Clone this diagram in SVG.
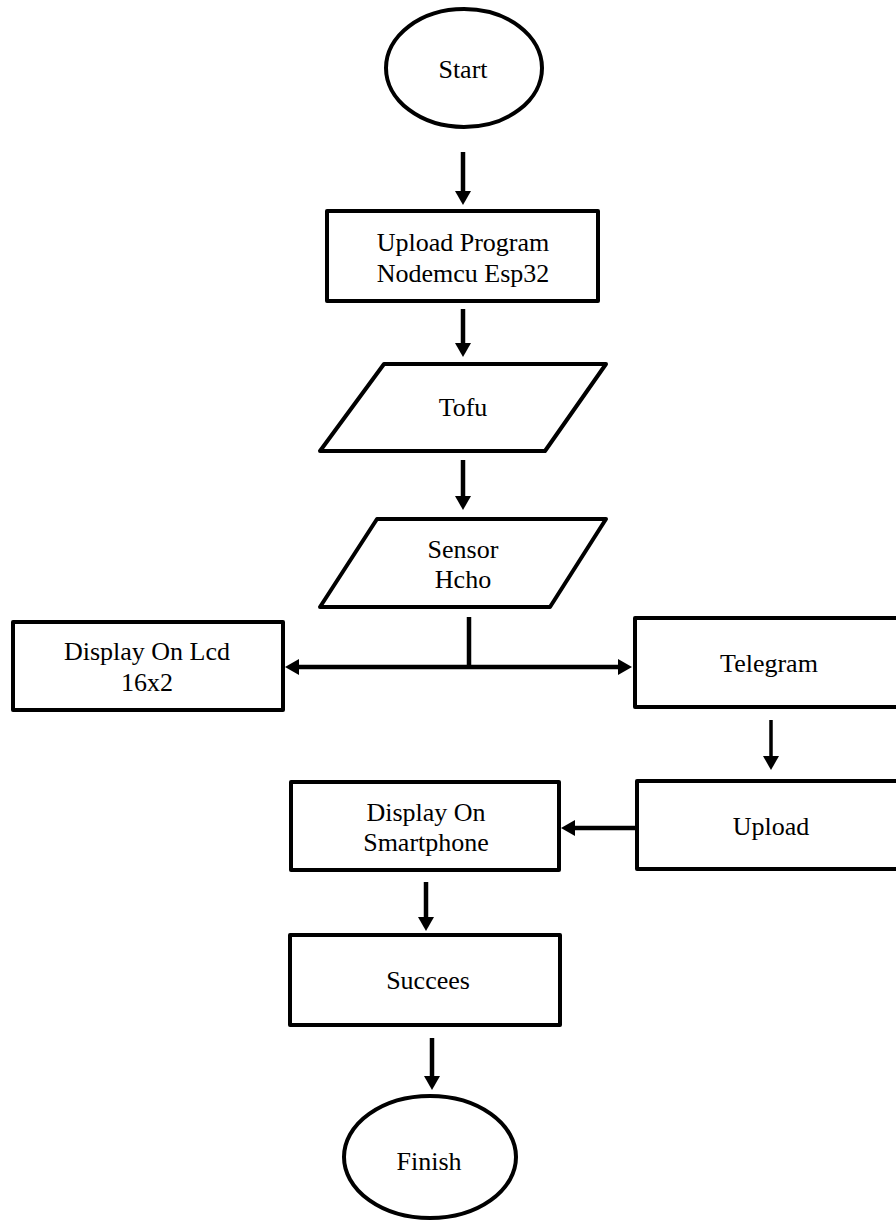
<svg xmlns="http://www.w3.org/2000/svg" width="896" height="1224" viewBox="0 0 896 1224">
<style>
.s{fill:#fff;stroke:#000;stroke-width:4;stroke-linejoin:round}
.t{font-family:"Liberation Serif","Times New Roman",serif;font-size:26px;fill:#000;text-anchor:middle}
.c{fill:none;stroke:#000;stroke-width:4.5}
.c3{fill:none;stroke:#000;stroke-width:3.5}
</style>
<defs>
<marker id="ah" markerUnits="userSpaceOnUse" markerWidth="16" markerHeight="16" viewBox="0 0 14 16" refX="2" refY="8" orient="auto">
<path d="M0,0 L14,8 L0,16 z" fill="#000"/>
</marker>
</defs>
<rect width="896" height="1224" fill="#fff"/>
<g id="connectors">
<line class="c" x1="463" y1="152" x2="463" y2="193" marker-end="url(#ah)"/>
<line class="c" x1="463" y1="309" x2="463" y2="345" marker-end="url(#ah)"/>
<line class="c" x1="463" y1="460" x2="463" y2="498" marker-end="url(#ah)"/>
<line class="c" x1="469" y1="617" x2="469" y2="667"/>
<line class="c" x1="469" y1="667" x2="297" y2="667" marker-end="url(#ah)"/>
<line class="c" x1="469" y1="667" x2="620" y2="667" marker-end="url(#ah)"/>
<line class="c3" x1="771" y1="720" x2="771" y2="758" marker-end="url(#ah)"/>
<line class="c" x1="637" y1="828" x2="573" y2="828" marker-end="url(#ah)"/>
<line class="c" x1="426" y1="882" x2="426" y2="919" marker-end="url(#ah)"/>
<line class="c" x1="432" y1="1038" x2="432" y2="1078" marker-end="url(#ah)"/>
</g>
<g id="start">
<ellipse class="s" cx="464" cy="68" rx="78" ry="59"/>
<text class="t" x="463" y="78">Start</text>
</g>
<g id="upload-program">
<rect class="s" x="327" y="211" width="271" height="90"/>
<text class="t" x="463" y="251">Upload Program</text>
<text class="t" x="463" y="282">Nodemcu Esp32</text>
</g>
<g id="tofu">
<polygon class="s" points="384,364 606,364 545,451 320,451"/>
<text class="t" x="463" y="416">Tofu</text>
</g>
<g id="sensor">
<polygon class="s" points="377,519 606,519 550,607 320,607"/>
<text class="t" x="463" y="558">Sensor</text>
<text class="t" x="463" y="588">Hcho</text>
</g>
<g id="lcd">
<rect class="s" x="13" y="622" width="270" height="88"/>
<text class="t" x="147" y="660">Display On Lcd</text>
<text class="t" x="147" y="691">16x2</text>
</g>
<g id="telegram">
<rect class="s" x="635" y="618" width="280" height="89"/>
<text class="t" x="769" y="672">Telegram</text>
</g>
<g id="upload">
<rect class="s" x="637" y="781" width="280" height="88"/>
<text class="t" x="771" y="835">Upload</text>
</g>
<g id="smartphone">
<rect class="s" x="291" y="782" width="268" height="88"/>
<text class="t" x="426" y="821">Display On</text>
<text class="t" x="426" y="851">Smartphone</text>
</g>
<g id="succees">
<rect class="s" x="290" y="935" width="270" height="90"/>
<text class="t" x="428" y="989">Succees</text>
</g>
<g id="finish">
<ellipse class="s" cx="430" cy="1157" rx="86" ry="61"/>
<text class="t" x="429" y="1170">Finish</text>
</g>
</svg>
